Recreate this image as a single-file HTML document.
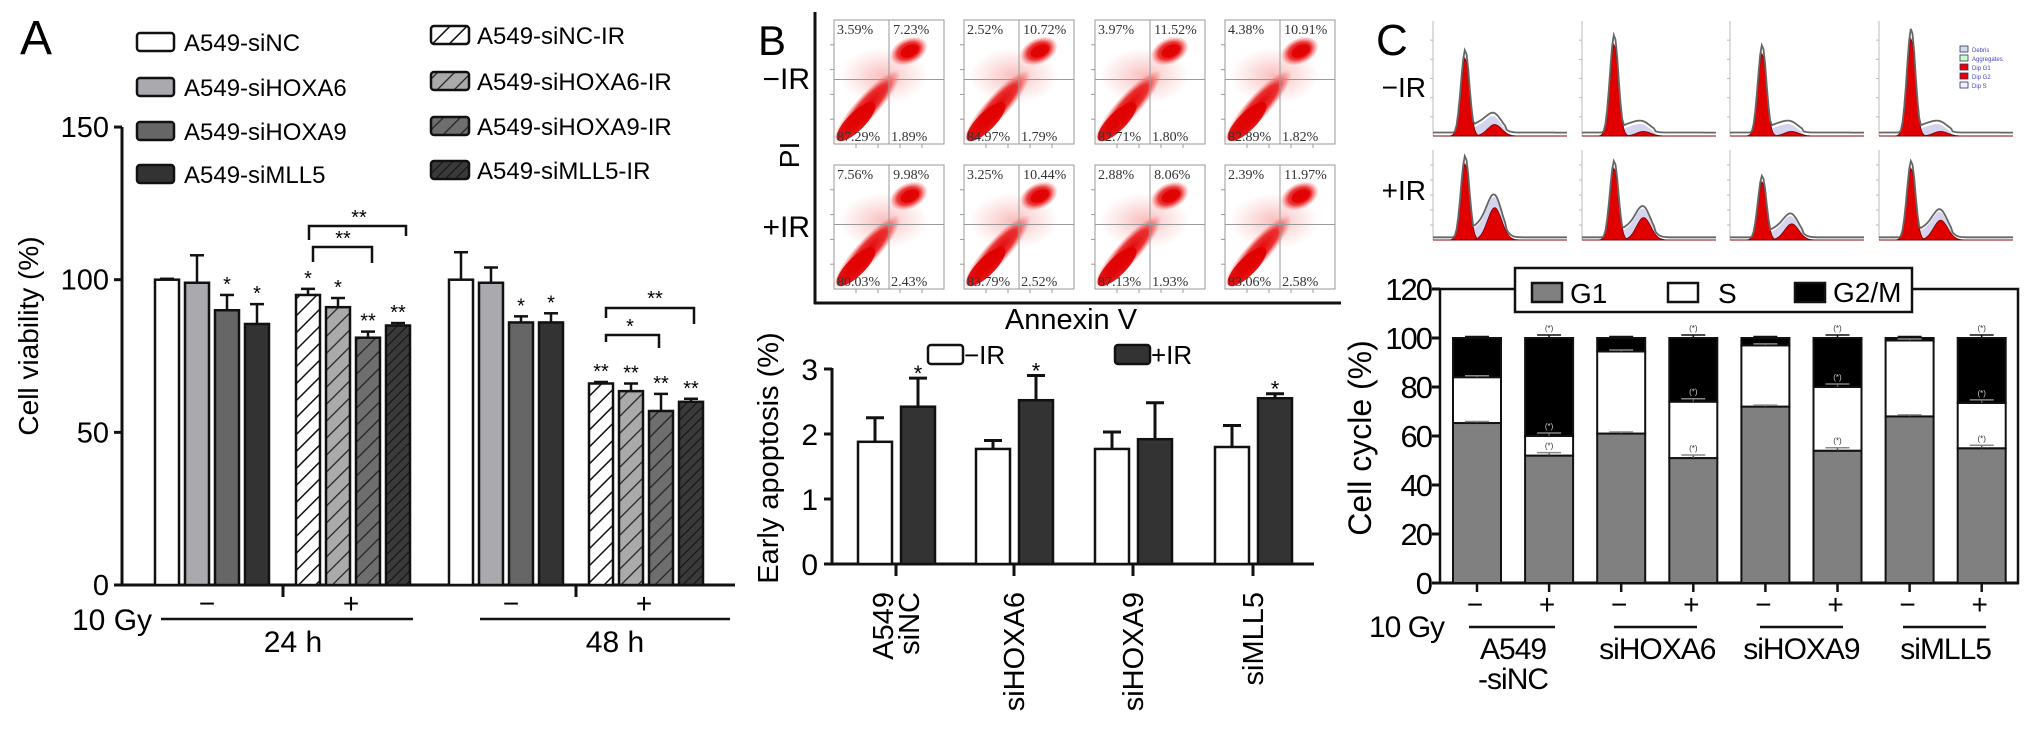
<!DOCTYPE html>
<html><head><meta charset="utf-8"><style>
html,body{margin:0;padding:0;background:#fff;}
svg{display:block;font-family:"Liberation Sans",Arial,sans-serif;}
</style></head><body>
<svg id="fig" width="2032" height="737" viewBox="0 0 2032 737" xmlns="http://www.w3.org/2000/svg">
<defs>
<pattern id="h0" patternUnits="userSpaceOnUse" width="12" height="12" patternTransform="rotate(45)"><rect width="12" height="12" fill="#fff"/><line x1="0" y1="0" x2="0" y2="12" stroke="#111" stroke-width="3"/></pattern>
<pattern id="h1" patternUnits="userSpaceOnUse" width="12" height="12" patternTransform="rotate(45)"><rect width="12" height="12" fill="#aaa"/><line x1="0" y1="0" x2="0" y2="12" stroke="#222" stroke-width="2.5"/></pattern>
<pattern id="h2" patternUnits="userSpaceOnUse" width="12" height="12" patternTransform="rotate(45)"><rect width="12" height="12" fill="#6e6e6e"/><line x1="0" y1="0" x2="0" y2="12" stroke="#222" stroke-width="2.5"/></pattern>
<pattern id="h3" patternUnits="userSpaceOnUse" width="7" height="7" patternTransform="rotate(45)"><rect width="7" height="7" fill="#3a3a3a"/><line x1="0" y1="0" x2="0" y2="7" stroke="#111" stroke-width="2"/></pattern>
<radialGradient id="red" cx="0.5" cy="0.5" r="0.5"><stop offset="0" stop-color="#e00000"/><stop offset="0.6" stop-color="#e81010" stop-opacity="0.85"/><stop offset="1" stop-color="#f04040" stop-opacity="0"/></radialGradient>
<radialGradient id="haze" cx="0.5" cy="0.5" r="0.5"><stop offset="0" stop-color="#f04040" stop-opacity="0.35"/><stop offset="1" stop-color="#f06060" stop-opacity="0"/></radialGradient>
</defs>
<g id="A"></g>
<g id="B"></g>
<g id="C"></g>
</svg>
<script>
// ---------- Panel A data ----------
const aGroupLabels = ['24h -IR','24h +IR','48h -IR','48h +IR'];
const aSeries = ['A549-siNC','A549-siHOXA6','A549-siHOXA9','A549-siMLL5'];
const aValues = [[100,99,90,85.5],[95,91,81,85],[100,99,86,86],[66,63.5,57,60]];
const aErrors = [[0.3,9,5,6.5],[2,3,2,0.8],[9,5,2,3],[0.5,2.5,5.6,1]];
const aStars = [['','','*','*'],['*','*','**','**'],['','','*','*'],['**','**','**','**']];
const aTicks = [0,50,100,150];
// ---------- Panel B data ----------
const bCategories = ['A549 siNC','siHOXA6','siHOXA9','siMLL5'];
const bMinusIR = [1.88,1.77,1.77,1.8];
const bMinusErr = [0.37,0.13,0.26,0.33];
const bPlusIR = [2.42,2.52,1.92,2.55];
const bPlusErr = [0.44,0.38,0.56,0.07];
const bStars = ['*','*','','*'];
const bTicks = [0,1,2,3];
const flowTL = [['3.59%','2.52%','3.97%','4.38%'],['7.56%','3.25%','2.88%','2.39%']];
const flowTR = [['7.23%','10.72%','11.52%','10.91%'],['9.98%','10.44%','8.06%','11.97%']];
const flowBL = [['87.29%','84.97%','82.71%','82.89%'],['80.03%','83.79%','87.13%','83.06%']];
const flowBR = [['1.89%','1.79%','1.80%','1.82%'],['2.43%','2.52%','1.93%','2.58%']];
// ---------- Panel C data ----------
const cGroups = ['A549\n-siNC','siHOXA6','siHOXA9','siMLL5'];
const cDose = ['−','+','−','+','−','+','−','+'];
const cG1 = [65.3,52,61,51,72,54,68,55];
const cS = [18.7,8,33.5,23,25,26,31,18.5];
const cG2M = [16,40,5.5,26,3,20,1,26.5];
const cTicks = [0,20,40,60,80,100,120];
const histG1 = [[0.68,0.1],[0.8,0.04],[0.72,0.04],[0.85,0.04]];
const histG1ir = [[0.85,0.36],[0.8,0.25],[0.65,0.18],[0.8,0.22]];

const NS='http://www.w3.org/2000/svg';
function el(parent,tag,attrs,text){const e=document.createElementNS(NS,tag);for(const k in attrs)e.setAttribute(k,attrs[k]);if(text!==undefined)e.textContent=text;parent.appendChild(e);return e;}

// ================= PANEL A =================
(function(){
const g=document.getElementById('A');
const yA=v=>585-v*3.053;
const groupX=[155,296,449,589];
const fills=[['#fff','#a9a9ae','#666','#333'],['url(#h0)','url(#h1)','url(#h2)','url(#h3)']];
let t;
t=el(g,'text',{x:20,y:54,'font-size':48},'A');


const legY1=[42,87,131,174], legY2=[35,81,126,170];
for(let i=0;i<4;i++){
  let r=el(g,'rect',{x:137,y:legY1[i]-9,width:37,height:18,rx:3,fill:fills[0][i],stroke:'#111','stroke-width':2.5});
  
  
  t=el(g,'text',{x:184,y:legY1[i]+9,'font-size':24},aSeries[i]);
  
  
  r=el(g,'rect',{x:431,y:legY2[i]-9,width:38,height:18,rx:3,fill:fills[1][i],stroke:'#111','stroke-width':2.5});
  
  
  t=el(g,'text',{x:477,y:legY2[i]+9,'font-size':24},aSeries[i]+'-IR');
  
  
}
let l=el(g,'line',{x1:122,y1:yA(150),x2:122,y2:586,stroke:'#111','stroke-width':3});


l=el(g,'line',{x1:121,y1:585,x2:735,y2:585,stroke:'#111','stroke-width':3});


aTicks.forEach(v=>{
  el(g,'line',{x1:114,y1:yA(v),x2:122,y2:yA(v),stroke:'#111','stroke-width':3});
  t=el(g,'text',{x:109,y:yA(v)+10,'font-size':29,'text-anchor':'end'},String(v));
  
  
});
t=el(g,'text',{x:0,y:0,'font-size':28,'text-anchor':'middle',transform:'translate(38,336) rotate(-90)'},'Cell viability (%)');


[283,576].forEach(x=>el(g,'line',{x1:x,y1:585,x2:x,y2:597,stroke:'#111','stroke-width':3}));
for(let gi=0;gi<4;gi++){
  for(let s=0;s<4;s++){
    const x=groupX[gi]+s*30, v=aValues[gi][s], e=aErrors[gi][s], w=24;
    const top=yA(v+e);
    el(g,'line',{x1:x+w/2,y1:yA(v),x2:x+w/2,y2:top,stroke:'#111','stroke-width':2.5});
    el(g,'line',{x1:x+w/2-7,y1:top,x2:x+w/2+7,y2:top,stroke:'#111','stroke-width':2.5});
    const r=el(g,'rect',{x:x,y:yA(v),width:w,height:585-yA(v),fill:fills[gi%2][s],stroke:'#111','stroke-width':2.5});
    
    
    if(aStars[gi][s]){
      t=el(g,'text',{x:x+w/2,y:top-4,'font-size':20,'text-anchor':'middle'},aStars[gi][s]);
      
      
    }
  }
}
function bracket(x1,x2,y,l1,l2,label,lx,ly){
  el(g,'path',{d:`M${x1},${l1} L${x1},${y} L${x2},${y} L${x2},${l2}`,fill:'none',stroke:'#111','stroke-width':2.5});
  t=el(g,'text',{x:lx,y:ly,'font-size':20,'text-anchor':'middle'},label);
  
  
}
bracket(313,372,247,262,263,'**',343,245);
bracket(309,406,226,240,236,'**',359,224);
bracket(606,659,335,342,348,'*',630,333);
bracket(606,694,308,318,324,'**',655,305);
t=el(g,'text',{x:72,y:630,'font-size':30},'10 Gy');


el(g,'line',{x1:161,y1:619,x2:413,y2:619,stroke:'#111','stroke-width':2.5});
el(g,'line',{x1:480,y1:619,x2:730,y2:619,stroke:'#111','stroke-width':2.5});
[[207,'−'],[351,'+'],[511,'−'],[644,'+']].forEach(p=>{t=el(g,'text',{x:p[0],y:613,'font-size':28,'text-anchor':'middle'},p[1]);
  
  });
t=el(g,'text',{x:293,y:652,'font-size':30,'text-anchor':'middle'},'24 h');


t=el(g,'text',{x:615,y:652,'font-size':30,'text-anchor':'middle'},'48 h');


})();

// ================= PANEL B =================
(function(){
const g=document.getElementById('B');
let t,l;
t=el(g,'text',{x:758,y:55,'font-size':42},'B');


el(g,'line',{x1:815,y1:12,x2:815,y2:304,stroke:'#111','stroke-width':3});
el(g,'line',{x1:814,y1:303,x2:1341,y2:303,stroke:'#111','stroke-width':3});
t=el(g,'text',{x:810,y:89,'font-size':30,'text-anchor':'end'},'−IR');


t=el(g,'text',{x:810,y:237,'font-size':30,'text-anchor':'end'},'+IR');


t=el(g,'text',{x:0,y:0,'font-size':28,'text-anchor':'middle',transform:'translate(799,155) rotate(-90)'},'PI');


t=el(g,'text',{x:1071,y:329,'font-size':29,'text-anchor':'middle'},'Annexin V');


const colX=[834,964,1095,1225], rowY=[20,165], W=110, H=124;
for(let r=0;r<2;r++)for(let c=0;c<4;c++){
  const x=colX[c], y=rowY[r];
  const pg=el(g,'g',{});
  
  
  el(pg,'rect',{x:x,y:y,width:W,height:H,fill:'#fff',stroke:'#999','stroke-width':1});
  el(pg,'ellipse',{cx:x+W*0.45,cy:y+H*0.45,rx:45,ry:28,fill:'url(#haze)'});
  el(pg,'ellipse',{cx:x+W*0.3,cy:y+H*0.7,rx:48,ry:12,fill:'url(#red)',transform:`rotate(-48 ${x+W*0.3} ${y+H*0.7})`});
  el(pg,'ellipse',{cx:x+W*0.2,cy:y+H*0.82,rx:26,ry:9,fill:'#e00000',opacity:0.9,transform:`rotate(-45 ${x+W*0.2} ${y+H*0.82})`});
  el(pg,'ellipse',{cx:x+W*0.68,cy:y+H*0.25,rx:20,ry:13,fill:'url(#red)',transform:`rotate(-25 ${x+W*0.68} ${y+H*0.25})`});
  el(pg,'ellipse',{cx:x+W*0.69,cy:y+H*0.25,rx:10,ry:6,fill:'#e00000',opacity:0.85,transform:`rotate(-25 ${x+W*0.69} ${y+H*0.25})`});
  el(pg,'line',{x1:x+W*0.5,y1:y,x2:x+W*0.5,y2:y+H,stroke:'#999','stroke-width':1});
  el(pg,'line',{x1:x,y1:y+H*0.48,x2:x+W,y2:y+H*0.48,stroke:'#999','stroke-width':1});
  for(let k=1;k<5;k++){el(pg,'line',{x1:x-4,y1:y+k*H/5,x2:x,y2:y+k*H/5,stroke:'#999'});el(pg,'line',{x1:x+k*W/5,y1:y+H,x2:x+k*W/5,y2:y+H+4,stroke:'#999'});}
  const fs={'font-size':14,'font-family':'"Liberation Serif",serif',fill:'#333'};
  el(pg,'text',Object.assign({x:x+3,y:y+14},fs),flowTL[r][c]);
  el(pg,'text',Object.assign({x:x+W*0.51+3,y:y+14},fs),flowTR[r][c]);
  el(pg,'text',Object.assign({x:x+3,y:y+H-3},fs),flowBL[r][c]);
  el(pg,'text',Object.assign({x:x+W*0.51+1,y:y+H-3},fs),flowBR[r][c]);
}
const yB=v=>564-65*v;
const ticksX=[896,1014,1133,1253];
l=el(g,'line',{x1:832,y1:yB(3)-1,x2:832,y2:565,stroke:'#111','stroke-width':3});


l=el(g,'line',{x1:831,y1:564,x2:1314,y2:564,stroke:'#111','stroke-width':3});


bTicks.forEach(v=>{el(g,'line',{x1:824,y1:yB(v),x2:832,y2:yB(v),stroke:'#111','stroke-width':3});
  t=el(g,'text',{x:818,y:yB(v)+11,'font-size':30,'text-anchor':'end'},String(v));
  
  });
t=el(g,'text',{x:0,y:0,'font-size':29,'text-anchor':'middle',transform:'translate(778,458) rotate(-90)'},'Early apoptosis (%)');


function errBar(cx,v,e){const top=yB(v+e);el(g,'line',{x1:cx,y1:yB(v),x2:cx,y2:top,stroke:'#111','stroke-width':3});el(g,'line',{x1:cx-9,y1:top,x2:cx+9,y2:top,stroke:'#111','stroke-width':3});return top;}
for(let i=0;i<4;i++){
  const tx=ticksX[i];
  el(g,'line',{x1:tx,y1:564,x2:tx,y2:576,stroke:'#111','stroke-width':3});
  errBar(tx-21,bMinusIR[i],bMinusErr[i]);
  let r=el(g,'rect',{x:tx-38,y:yB(bMinusIR[i]),width:34,height:564-yB(bMinusIR[i]),fill:'#fff',stroke:'#111','stroke-width':2.5});
  
  
  const top=errBar(tx+22,bPlusIR[i],bPlusErr[i]);
  r=el(g,'rect',{x:tx+5,y:yB(bPlusIR[i]),width:34,height:564-yB(bPlusIR[i]),fill:'#333',stroke:'#111','stroke-width':2.5});
  
  
  if(bStars[i]){t=el(g,'text',{x:tx+22,y:top+3,'font-size':22,'text-anchor':'middle'},bStars[i]);
    
    }
  const parts=bCategories[i].split(' ');
  parts.forEach((p,k)=>{
    const lx=tx+(parts.length===2?(k===0?-13:13):0)+10;
    t=el(g,'text',{x:0,y:0,'font-size':29,'text-anchor':'end',transform:`translate(${lx},592) rotate(-90)`},p);
    
    
  });
}
let r=el(g,'rect',{x:928,y:345,width:35,height:19,rx:3,fill:'#fff',stroke:'#111','stroke-width':2.5});


t=el(g,'text',{x:964,y:364,'font-size':26},'−IR');


r=el(g,'rect',{x:1115,y:345,width:35,height:19,rx:3,fill:'#333',stroke:'#111','stroke-width':2.5});


t=el(g,'text',{x:1151,y:364,'font-size':26},'+IR');


})();

// ================= PANEL C =================
(function(){
const g=document.getElementById('C');
let t,l,r;
t=el(g,'text',{x:1376,y:55,'font-size':44},'C');


t=el(g,'text',{x:1426,y:97,'font-size':28,'text-anchor':'end'},'−IR');


t=el(g,'text',{x:1426,y:200,'font-size':28,'text-anchor':'end'},'+IR');


const hx=[1433,1582,1730,1879], hw=134;
const rows=[[21,136,histG1],[150,240,histG1ir]];
rows.forEach((row,ri)=>{
  const [top,base,params]=row;
  for(let c=0;c<4;c++){
    const x0=hx[c], hgt=base-top;
    const hg=el(g,'g',{});
    
    
    el(hg,'line',{x1:x0,y1:top,x2:x0,y2:base,stroke:'#bbb','stroke-width':1});
    for(let k=1;k<6;k++)el(hg,'line',{x1:x0-3,y1:base-k*hgt/6,x2:x0,y2:base-k*hgt/6,stroke:'#bbb'});
    el(hg,'line',{x1:x0,y1:base,x2:x0+hw,y2:base,stroke:'#999','stroke-width':1});
    const a1=params[c][0], a2=params[c][1];
    const c1=0.24, c2=0.46;
    let d1=`M${x0},${base}`, d2=`M${x0},${base}`, d3=`M${x0},${base}`, d4='';
    for(let k=0;k<=80;k++){
      const f=k/80, px=x0+f*hw;
      const p1=a1*Math.exp(-Math.pow((f-c1)/0.045,2));
      const p2=a2*Math.exp(-Math.pow((f-c2)/0.075,2));
      const sph=(f>c1-0.02&&f<c2+0.08)?(0.07+a2*0.25)*Math.exp(-Math.pow((f-0.38)/0.14,2)):0;
      const env=Math.max(p1*1.1,p2+sph+0.03, f>0.1&&f<0.75?0.02:0);
      d1+=` L${px.toFixed(1)},${(base-p1*hgt).toFixed(1)}`;
      d2+=` L${px.toFixed(1)},${(base-p2*hgt).toFixed(1)}`;
      d3+=` L${px.toFixed(1)},${(base-Math.max(p1,p2+sph)*hgt).toFixed(1)}`;
      d4+=(k?' L':'M')+`${px.toFixed(1)},${(base-env*hgt).toFixed(1)}`;
    }
    el(hg,'path',{d:d3+` L${x0+hw},${base}Z`,fill:'#d4d4ee',stroke:'none'});
    el(hg,'path',{d:d1+` L${x0+hw},${base}Z`,fill:'#e00000',stroke:'#700','stroke-width':0.8});
    el(hg,'path',{d:d2+` L${x0+hw},${base}Z`,fill:'#e00000',stroke:'#700','stroke-width':0.8});
    el(hg,'path',{d:d4,fill:'none',stroke:'#666','stroke-width':1.8});
  }
});
const tl=el(g,'g',{});


['#cde','#cfc','#e00','#e00','#eef'].forEach((f,i)=>{
  el(tl,'rect',{x:1960,y:46+i*9,width:8,height:6,fill:f,stroke:'#336','stroke-width':0.8});
  el(tl,'text',{x:1972,y:52+i*9,'font-size':6,fill:'#44c'},['Debris','Aggregates','Dip G1','Dip G2','Dip S'][i]);
});
const yC=v=>583-2.45*v;
const barX=i=>1453+i*72.1, bw=48;
el(g,'path',{d:`M1440,584 L1440,${yC(120)} L1515,${yC(120)} M1912,${yC(120)} L2018,${yC(120)} L2018,584`,fill:'none',stroke:'#111','stroke-width':2.5});
l=el(g,'line',{x1:1439,y1:583,x2:2019,y2:583,stroke:'#111','stroke-width':3});


cTicks.forEach(v=>{el(g,'line',{x1:1432,y1:yC(v),x2:1440,y2:yC(v),stroke:'#111','stroke-width':3});
  t=el(g,'text',{x:1431,y:yC(v)+11,'font-size':31,'text-anchor':'end','letter-spacing':-2},String(v));
  
  });
t=el(g,'text',{x:0,y:0,'font-size':32,'text-anchor':'middle',transform:'translate(1371,438) rotate(-90)'},'Cell cycle (%)');


for(let i=0;i<8;i++){
  const x=barX(i), cx=x+bw/2;
  const b1=cG1[i], b2=cG1[i]+cS[i], b3=b2+cG2M[i];
  r=el(g,'rect',{x:x,y:yC(b1),width:bw,height:yC(0)-yC(b1),fill:'#808080',stroke:'#111','stroke-width':2});
  
  
  r=el(g,'rect',{x:x,y:yC(b2),width:bw,height:yC(b1)-yC(b2),fill:'#fff',stroke:'#111','stroke-width':2});
  
  
  r=el(g,'rect',{x:x,y:yC(b3),width:bw,height:yC(b2)-yC(b3),fill:'#000',stroke:'#111','stroke-width':2});
  
  
  [b1,b2,b3].forEach((v,k)=>{
    const ey=yC(v)-(i%2?3:1.5);
    el(g,'line',{x1:cx,y1:yC(v),x2:cx,y2:ey,stroke:k===2?'#111':'#555','stroke-width':1.5});
    el(g,'line',{x1:cx-12,y1:ey,x2:cx+12,y2:ey,stroke:k===2?'#111':'#888','stroke-width':1.5});
    if(i%2===1){t=el(g,'text',{x:cx,y:ey-4,'font-size':8,'text-anchor':'middle',fill:k===1&&v<90?'#ccc':'#333'},'(*)');
      
      }
  });
  el(g,'line',{x1:cx,y1:583,x2:cx,y2:592,stroke:'#111','stroke-width':2.5});
  t=el(g,'text',{x:cx-2,y:614,'font-size':28,'text-anchor':'middle'},cDose[i]);
  
  
}
t=el(g,'text',{x:1369,y:637,'font-size':30,'letter-spacing':-1},'10 Gy');


const glx=[[1469,1555],[1614,1697],[1760,1843],[1903,1986]];
for(let k=0;k<4;k++){
  el(g,'line',{x1:glx[k][0],y1:627,x2:glx[k][1],y2:627,stroke:'#111','stroke-width':2.5});
  const cxg=(barX(2*k)+barX(2*k+1)+bw)/2;
  cGroups[k].split('\n').forEach((p,j)=>{
    t=el(g,'text',{x:cxg,y:659+j*30,'font-size':30,'text-anchor':'middle','letter-spacing':-1},p);
    
    
  });
}
const lg=el(g,'g',{});


el(lg,'rect',{x:1515,y:268,width:397,height:44,fill:'#fff',stroke:'#111','stroke-width':2.5});
el(lg,'rect',{x:1532,y:283,width:30,height:19,fill:'#808080',stroke:'#111','stroke-width':2.5});
el(lg,'text',{x:1570,y:303,'font-size':28},'G1');
el(lg,'rect',{x:1668,y:283,width:30,height:19,fill:'#fff',stroke:'#111','stroke-width':2.5});
el(lg,'text',{x:1718,y:303,'font-size':28},'S');
el(lg,'rect',{x:1795,y:283,width:30,height:19,fill:'#000',stroke:'#111','stroke-width':2.5});
el(lg,'text',{x:1833,y:302,'font-size':28},'G2/M');
})();
</script>
</body></html>
